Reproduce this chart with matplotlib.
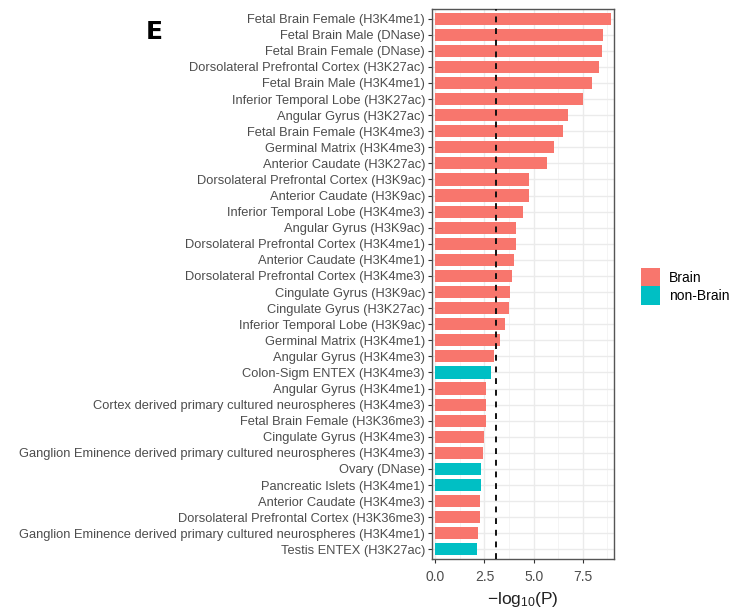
import matplotlib
matplotlib.use('Agg')
import matplotlib.pyplot as plt
from matplotlib.patches import Patch
import numpy as np

# tissue / mark labels, top to bottom
labels = [
    'Fetal Brain Female (H3K4me1)',
    'Fetal Brain Male (DNase)',
    'Fetal Brain Female (DNase)',
    'Dorsolateral Prefrontal Cortex (H3K27ac)',
    'Fetal Brain Male (H3K4me1)',
    'Inferior Temporal Lobe (H3K27ac)',
    'Angular Gyrus (H3K27ac)',
    'Fetal Brain Female (H3K4me3)',
    'Germinal Matrix (H3K4me3)',
    'Anterior Caudate (H3K27ac)',
    'Dorsolateral Prefrontal Cortex (H3K9ac)',
    'Anterior Caudate (H3K9ac)',
    'Inferior Temporal Lobe (H3K4me3)',
    'Angular Gyrus (H3K9ac)',
    'Dorsolateral Prefrontal Cortex (H3K4me1)',
    'Anterior Caudate (H3K4me1)',
    'Dorsolateral Prefrontal Cortex (H3K4me3)',
    'Cingulate Gyrus (H3K9ac)',
    'Cingulate Gyrus (H3K27ac)',
    'Inferior Temporal Lobe (H3K9ac)',
    'Germinal Matrix (H3K4me1)',
    'Angular Gyrus (H3K4me3)',
    'Colon-Sigm ENTEX (H3K4me3)',
    'Angular Gyrus (H3K4me1)',
    'Cortex derived primary cultured neurospheres (H3K4me3)',
    'Fetal Brain Female (H3K36me3)',
    'Cingulate Gyrus (H3K4me3)',
    'Ganglion Eminence derived primary cultured neurospheres (H3K4me3)',
    'Ovary (DNase)',
    'Pancreatic Islets (H3K4me1)',
    'Anterior Caudate (H3K4me3)',
    'Dorsolateral Prefrontal Cortex (H3K36me3)',
    'Ganglion Eminence derived primary cultured neurospheres (H3K4me1)',
    'Testis ENTEX (H3K27ac)',
]

neglogp = [
    8.93, 8.51, 8.46, 8.34, 7.97, 7.53, 6.73, 6.50, 6.06, 5.69,
    4.79, 4.79, 4.47, 4.10, 4.10, 3.98, 3.91, 3.79, 3.74, 3.55,
    3.28, 3.00, 2.81, 2.56, 2.57, 2.57, 2.50, 2.44, 2.32, 2.32,
    2.25, 2.25, 2.18, 2.13,
]

group = ['Brain'] * 22 + ['non-Brain'] + ['Brain'] * 5 + ['non-Brain'] * 2 + ['Brain'] * 3 + ['non-Brain']

threshold = 3.1

colors = {'Brain': '#F8766D', 'non-Brain': '#00BFC4'}

matplotlib.rcParams['font.family'] = 'Liberation Sans'
matplotlib.rcParams['mathtext.fontset'] = 'custom'
matplotlib.rcParams['mathtext.rm'] = 'Liberation Sans'
matplotlib.rcParams['mathtext.it'] = 'Liberation Sans:italic'

fig = plt.figure(figsize=(7.36, 6.09), dpi=100)
ax = fig.add_axes([432 / 736, 1 - 559 / 609, 182 / 736, 550 / 609])

ypos = np.arange(len(labels))
ax.barh(ypos, neglogp, height=0.76, color=[colors[g] for g in group],
        edgecolor='none', zorder=2)
ax.axvline(threshold, color='#111111', linestyle=(0, (3, 3)), linewidth=1.4, zorder=3)

ax.set_ylim(len(labels) - 0.4, -0.6)
ax.set_xlim(-0.17, 9.09)
ax.set_yticks(ypos)
ax.set_yticklabels(labels, fontsize=9.3, color='#4d4d4d')
ax.set_xticks([0, 2.5, 5, 7.5])
ax.set_xticklabels(['0.0', '2.5', '5.0', '7.5'], fontsize=10, color='#4d4d4d')
ax.set_xticks([1.25, 3.75, 6.25, 8.75], minor=True)
ax.tick_params(axis='both', length=3, width=0.8, color='#333333', pad=2)
ax.tick_params(axis='x', pad=5)
ax.tick_params(axis='x', which='minor', length=0)

ax.grid(True, which='major', color='#ebebeb', linewidth=1.0, zorder=0)
ax.grid(True, which='minor', axis='x', color='#f2f2f2', linewidth=0.6, zorder=0)
ax.set_axisbelow(True)
for s in ax.spines.values():
    s.set_color('#555555')
    s.set_linewidth(1.0)

ax.set_xlabel('\u2212log$_{10}$(P)', fontsize=12.5, color='#222222', labelpad=4)

handles = [Patch(facecolor=colors[k], edgecolor='none', label=k) for k in ['Brain', 'non-Brain']]
fig.legend(handles=handles, loc='upper left', bbox_to_anchor=(641 / 736, 1 - 268 / 609),
           frameon=False, fontsize=10, handlelength=1.37, handleheight=1.65,
           labelspacing=0.0, handletextpad=0.65, borderpad=0, borderaxespad=0)

fig.text(154 / 736, 1 - 32 / 609, 'E', fontsize=18, fontweight='bold',
         family='DejaVu Sans', ha='center', va='center')

fig.savefig('out.png', dpi=100)
plt.close()
